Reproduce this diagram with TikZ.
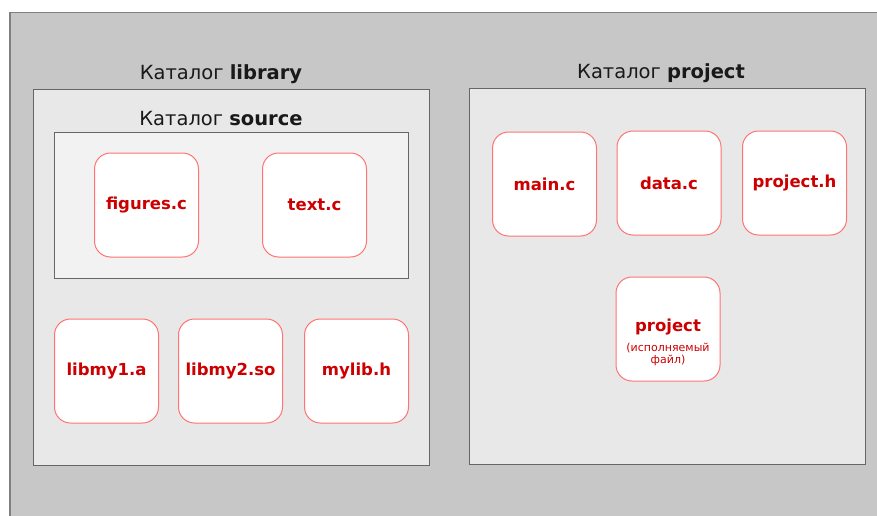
\documentclass[tikz,border=0pt]{standalone}
\usepackage{fontspec}
\setmainfont{DejaVu Sans}
\begin{document}
\begin{tikzpicture}[x=1pt,y=-1pt,
  frame/.style={draw=black!60, fill=black!9, line width=1pt},
  file/.style={draw=red!55, fill=white, rounded corners=16pt, line width=1pt,
    minimum width=104pt, minimum height=104pt, inner sep=0pt,
    text=red!80!black, font=\bfseries\fontsize{16.5}{19}\selectfont, align=center},
  ttl/.style={font=\fontsize{19.5}{22}\selectfont, text=black!90}]
\useasboundingbox (0,0) rectangle (877,516);
\clip (0,0) rectangle (877,516);
\fill[white] (0,0) rectangle (877,516);
\draw[draw=black!50, fill=black!22, line width=1.5pt] (10,12.5) rectangle (900,540);
\draw[frame] (33,90) rectangle (429,465);
\draw[frame] (469,89) rectangle (865,464);
\draw[draw=black!60, fill=black!5, line width=1pt] (54,132) rectangle (408,278);
\node[ttl] (tlib) at (221,74.5) {Каталог \textbf{library}};
\node[ttl] (tsrc) at (221,118.5) {Каталог \textbf{source}};
\node[ttl] (tprj) at (661,73.5) {Каталог \textbf{project}};
\node[file] (fig) at (146.5,205) {figures.c};
\node[file] (txt) at (314.5,205) {text.c};
\node[file] (lib1) at (106.5,371) {libmy1.a};
\node[file] (lib2) at (230.5,371) {libmy2.so};
\node[file] (mylib) at (356.5,371) {mylib.h};
\node[file] (mainc) at (544.5,184) {main.c};
\node[file] (datac) at (669,183) {data.c};
\node[file] (projh) at (794.5,183) {project.h};
\node[file] (proj) at (668,329) {};
\node[text=red!80!black, font=\bfseries\fontsize{16.5}{19}\selectfont] (projt) at (668,327.5) {project};
\node[text=red!80!black, font=\fontsize{11}{12.5}\selectfont, align=center] (projs) at (668,354.5) {(исполняемый\\файл)};
\end{tikzpicture}
\end{document}
